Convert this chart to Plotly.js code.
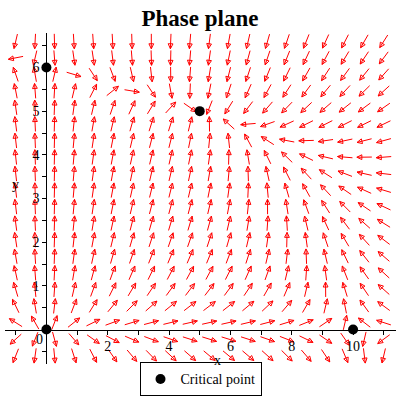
<!DOCTYPE html>
<html>
<head>
<meta charset="utf-8">
<script src="https://cdn.plot.ly/plotly-3.0.1.min.js"></script>
<style>html,body{margin:0;padding:0;background:#fff;}#chart{width:400px;height:400px;}</style>
</head>
<body>
<div id="chart"></div>
<script>
// Grid of direction-field sample points
const gridX = [-1, -0.368, 0.263, 0.895, 1.526, 2.158, 2.789, 3.421, 4.053, 4.684,
               5.316, 5.947, 6.579, 7.211, 7.842, 8.474, 9.105, 9.737, 10.368, 11];
const gridY = [-0.6, -0.221, 0.158, 0.537, 0.916, 1.295, 1.674, 2.053, 2.432, 2.811,
               3.189, 3.568, 3.947, 4.326, 4.705, 5.084, 5.463, 5.842, 6.221, 6.6];
// Competition system: x' = x*(a - b*x - c*y), y' = y*(d - e*x - f*y)
const xCoeffs = [1, 0.1, 0.1];
const yCoeffs = [3, 0.1, 0.5];
// Critical points
const criticalX = [0, 0, 5, 10];
const criticalY = [0, 6, 5, 0];
// Ticks
const xTickVals = [-1, 0, 1, 2, 3, 4, 5, 6, 7, 8, 9, 10, 11];
const xTickText = ['', '', '', '2', '', '4', '', '6', '', '8', '', '10', ''];
const yTickVals = [-0.5, 0, 0.5, 1, 1.5, 2, 2.5, 3, 3.5, 4, 4.5, 5, 5.5, 6, 6.5];
const yTickText = ['', '', '', '1', '', '2', '', '3', '', '4', '', '5', '', '6', ''];

const W = 400, H = 400;
const margin = {l: 5, r: 4, t: 33, b: 34};
const xRange = [-1.35, 11.4];
const yRange = [-0.79, 6.79];
const plotW = W - margin.l - margin.r;
const plotH = H - margin.t - margin.b;
const pxX = plotW / (xRange[1] - xRange[0]);
const pxY = plotH / (yRange[1] - yRange[0]);

const arrowLen = 15, headLen = 5, headHalf = 2.4;
const sx = [], sy = [], hx = [], hy = [];
for (const gx of gridX) {
  for (const gy of gridY) {
    const fx = gx * (xCoeffs[0] - xCoeffs[1] * gx - xCoeffs[2] * gy);
    const fy = gy * (yCoeffs[0] - yCoeffs[1] * gx - yCoeffs[2] * gy);
    let u = fx * pxX, v = fy * pxY;
    const n = Math.hypot(u, v);
    if (n === 0) continue;
    u /= n; v /= n;
    const tx = gx - u * arrowLen / 2 / pxX, ty = gy - v * arrowLen / 2 / pxY;
    const px = gx + u * arrowLen / 2 / pxX, py = gy + v * arrowLen / 2 / pxY;
    sx.push(tx, px, null); sy.push(ty, py, null);
    const bx = px - u * headLen / pxX, by = py - v * headLen / pxY;
    const lx = bx + (-v) * headHalf / pxX, ly = by + u * headHalf / pxY;
    const rx = bx - (-v) * headHalf / pxX, ry = by - u * headHalf / pxY;
    hx.push(px, lx, rx, px, null); hy.push(py, ly, ry, py, null);
  }
}

const serif = 'Liberation Serif, Times New Roman, serif';
const traces = [
  {x: sx, y: sy, mode: 'lines', type: 'scatter', line: {color: '#ff0000', width: 1},
   showlegend: false, hoverinfo: 'skip'},
  {x: hx, y: hy, mode: 'lines', type: 'scatter', line: {color: '#ff0000', width: 1},
   showlegend: false, hoverinfo: 'skip'},
  {x: criticalX, y: criticalY, mode: 'markers', type: 'scatter', name: 'Critical point',
   marker: {color: 'black', size: 10, symbol: 'circle'}}
];

const layout = {
  width: W, height: H, margin: margin,
  paper_bgcolor: 'white', plot_bgcolor: 'white',
  title: {text: 'Phase plane', x: 0.5, xanchor: 'center', y: 1 - 18 / 400, yanchor: 'middle',
          font: {family: serif, size: 23, color: 'black', weight: 'bold'}},
  showlegend: true,
  legend: {orientation: 'h', x: 0.5, xanchor: 'center', y: 0.005, yanchor: 'top',
           bordercolor: 'black', borderwidth: 1, bgcolor: 'white',
           font: {family: serif, size: 14, color: 'black'}},
  xaxis: {range: xRange, anchor: 'free',
          position: (0 - yRange[0]) / (yRange[1] - yRange[0]),
          showline: true, linecolor: 'black', linewidth: 1, showgrid: false, zeroline: false,
          ticks: 'outside', ticklen: 4, tickcolor: 'black', tickvals: xTickVals, ticktext: xTickText,
          tickfont: {family: serif, size: 14, color: 'black'}},
  yaxis: {range: yRange, anchor: 'free',
          position: (0 - xRange[0]) / (xRange[1] - xRange[0]),
          showline: true, linecolor: 'black', linewidth: 1, showgrid: false, zeroline: false,
          ticks: 'outside', ticklen: 4, tickcolor: 'black', tickvals: yTickVals, ticktext: yTickText,
          tickfont: {family: serif, size: 14, color: 'black'}},
  annotations: [
    {text: 'x', xref: 'paper', yref: 'paper', x: 0.544, y: 0.0099, showarrow: false,
     xanchor: 'center', yanchor: 'middle', font: {family: serif, size: 14, color: 'black'}},
    {text: 'y', xref: 'paper', yref: 'paper', x: 0.0256, y: 0.5435, showarrow: false,
     xanchor: 'center', yanchor: 'middle', font: {family: serif, size: 14, color: 'black'}},
    {text: '0', xref: 'x', yref: 'y', x: -0.232, y: -0.237, showarrow: false,
     xanchor: 'center', yanchor: 'middle', font: {family: serif, size: 14, color: 'black'}}
  ]
};

Plotly.newPlot('chart', traces, layout, {displayModeBar: false, staticPlot: true});
</script>
</body>
</html>
